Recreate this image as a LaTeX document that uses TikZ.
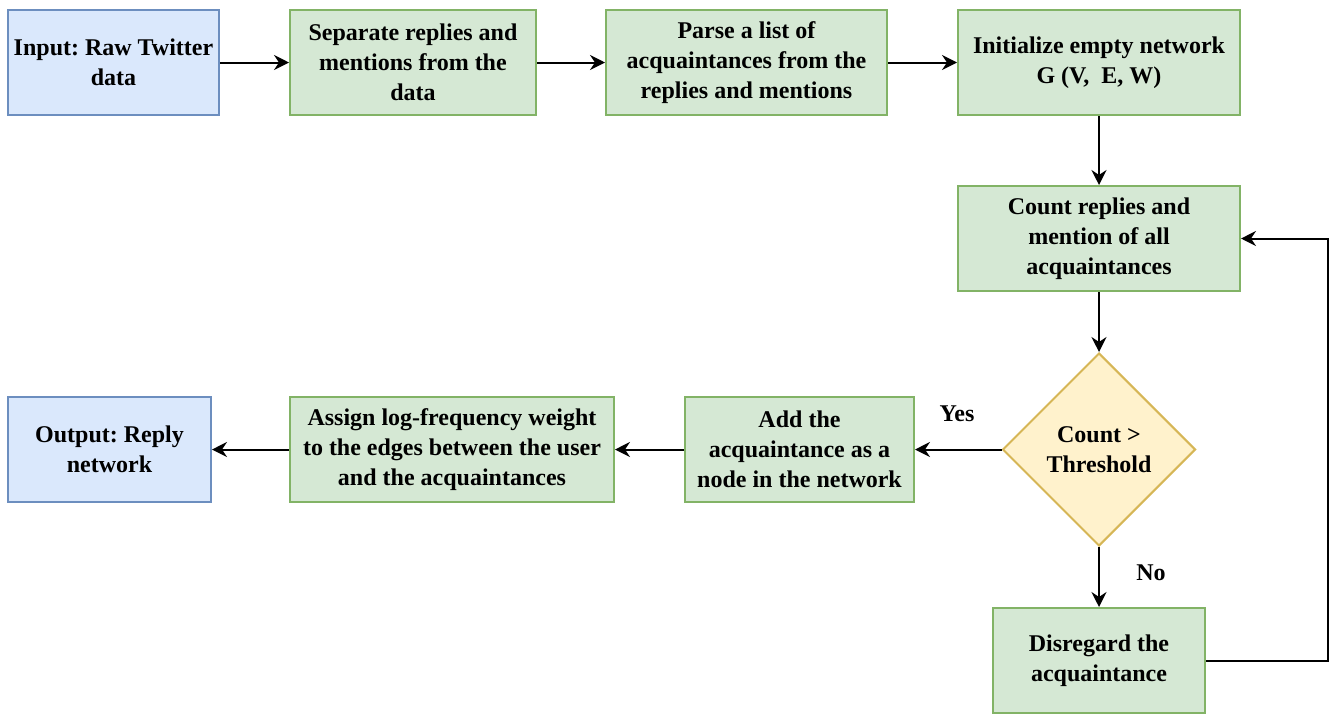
\documentclass[tikz,border=0pt]{standalone}
\usepackage{fontspec}
\setmainfont{Liberation Serif}
\frenchspacing
\usetikzlibrary{arrows.meta, shapes.geometric, positioning}
\definecolor{iofill}{HTML}{DAE8FC}
\definecolor{iodraw}{HTML}{6C8EBF}
\definecolor{stepfill}{HTML}{D5E8D4}
\definecolor{stepdraw}{HTML}{82B366}
\definecolor{decfill}{HTML}{FFF2CC}
\definecolor{decdraw}{HTML}{D6B656}

\tikzset{
  base/.style={font=\fontsize{12}{15}\selectfont\bfseries, align=center, inner sep=0pt, line width=1pt, minimum height=52.5pt},
  iobox/.style={base, rectangle, fill=iofill, draw=iodraw},
  stepbox/.style={base, rectangle, fill=stepfill, draw=stepdraw},
  decision/.style={base, diamond, aspect=1, fill=decfill, draw=decdraw, minimum width=96.5pt, minimum height=96.5pt},
  lbl/.style={font=\fontsize{12}{15}\selectfont\bfseries, inner sep=0pt},
  arr/.style={-{Stealth[length=7.5pt, width=7.5pt, inset=2.5pt]}, line width=1pt, black}
}

\begin{document}
\begin{tikzpicture}[x=0.5pt, y=-0.5pt]
      \useasboundingbox (0, 0) rectangle (1333, 713);

      % top row
      \node[iobox, minimum width=105.5pt] (input) at (113.5, 62.5) {Input: Raw Twitter\\data};
      \node[stepbox, minimum width=123pt] (separate) at (413, 62.5) {Separate replies and\\mentions from the\\data};
      \node[stepbox, minimum width=140.5pt] (parse) at (746.5, 62.5) {Parse a list of\\acquaintances from the\\replies and mentions};
      \node[stepbox, minimum width=141pt] (init) at (1099, 62.5) {Initialize empty network\\G (V,\ \ E, W)};

      % right column
      \node[stepbox, minimum width=141pt] (count) at (1099, 238.5) {Count replies and\\mention of all\\acquaintances};
      \node[decision] (check) at (1099, 449.5) {Count >\\Threshold};
      \node[stepbox, minimum width=106pt] (disregard) at (1099, 660.5) {Disregard the\\acquaintance};

      % bottom row
      \node[stepbox, minimum width=114.5pt] (add) at (799.5, 449.5) {Add the\\acquaintance as a\\node in the network};
      \node[stepbox, minimum width=162pt] (assign) at (452, 449.5) {Assign log-frequency weight\\to the edges between the user\\and the acquaintances};
      \node[iobox, minimum width=101.5pt] (output) at (109.5, 449.5) {Output: Reply\\network};

      % labels
      \node[lbl] (yes) at (957, 414) {Yes};
      \node[lbl] (no) at (1151, 573) {No};

      \coordinate (loop) at (1328, 660.5);

      \draw[arr] (input) -- (separate);
      \draw[arr] (separate) -- (parse);
      \draw[arr] (parse) -- (init);
      \draw[arr] (init) -- (count);
      \draw[arr] (count) -- (check);
      \draw[arr] (check) -- (add);
      \draw[arr] (check) -- (disregard);
      \draw[arr] (add) -- (assign);
      \draw[arr] (assign) -- (output);
      \draw[arr] (disregard.east) -- (loop) |- (count.east);

    \end{tikzpicture}
\end{document}
